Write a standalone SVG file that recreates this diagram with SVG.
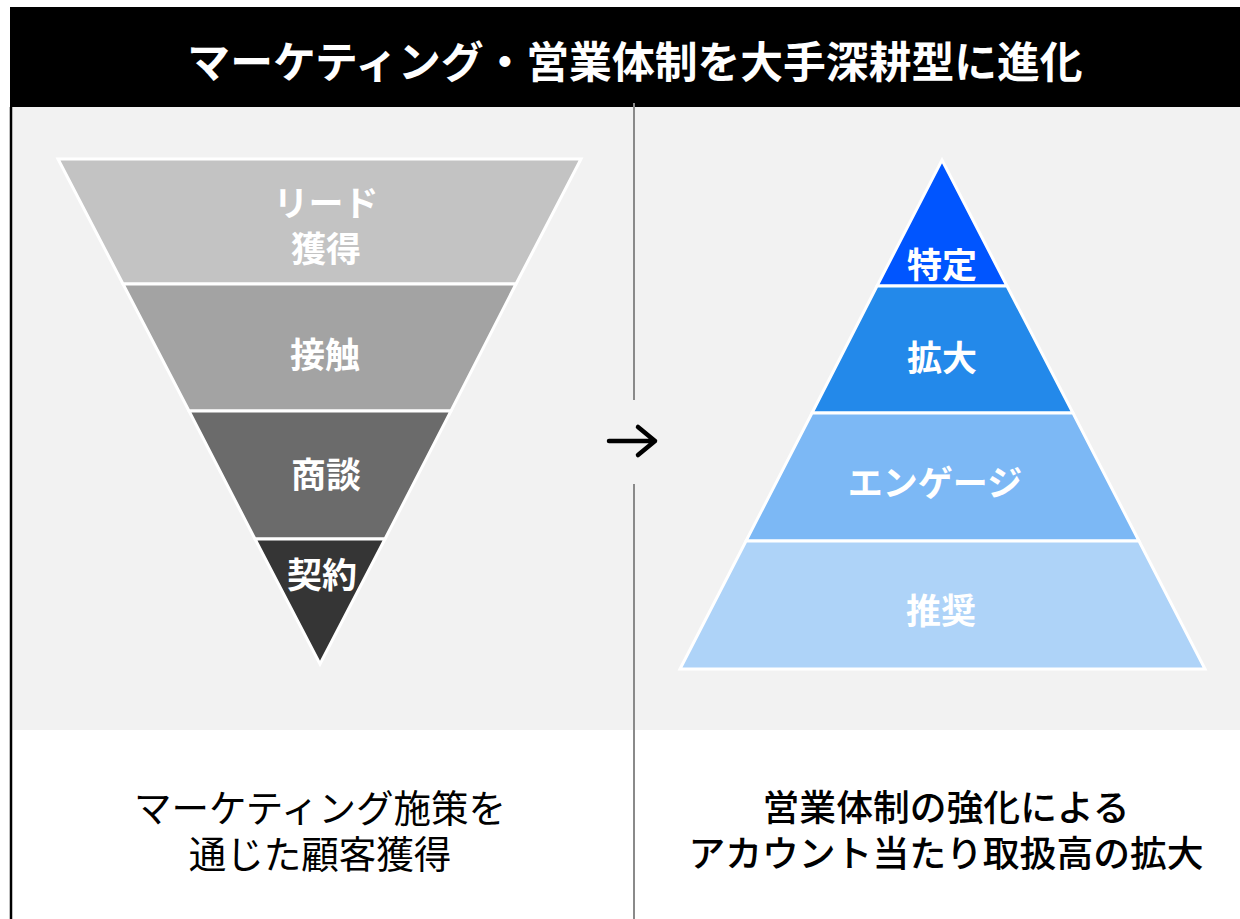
<svg xmlns="http://www.w3.org/2000/svg" width="1240" height="919" viewBox="0 0 1240 919">
<style>
.t{font-family:"Noto Sans CJK JP","Noto Sans",sans-serif;dominant-baseline:central;text-anchor:middle}
.lbl{font-size:35px;font-weight:700;fill:#ffffff}
.layer{stroke:#ffffff;stroke-width:3;stroke-linejoin:miter}
.cap{fill:#000000}
</style>
<rect x="0" y="0" width="1240" height="919" fill="#ffffff"/>
<g id="background">
<rect x="10" y="107" width="1230" height="623" fill="#f2f2f2"/>
<line x1="11" y1="107" x2="11" y2="919" stroke="#000000" stroke-width="2.5"/>
</g>
<g id="header">
<rect x="10" y="7" width="1230" height="100" fill="#000000"/>
<text class="t" x="635" y="59" font-size="42.8" font-weight="700" fill="#ffffff">マーケティング・営業体制を大手深耕型に進化</text>
</g>
<g id="connectors">
<line x1="634" y1="103" x2="634" y2="400" stroke="#8a8a8a" stroke-width="2"/>
<line x1="634" y1="484" x2="634" y2="919" stroke="#8a8a8a" stroke-width="2"/>
<path d="M609 441 H655 M638 427 L655 441 L638 455" fill="none" stroke="#000000" stroke-width="4.5" stroke-linecap="round" stroke-linejoin="round"/>
</g>
<g id="funnel-lead">
<polygon class="layer" points="58,159 581,159 516,284 123,284" fill="#c3c3c3"/>
<text class="t lbl" x="326"><tspan x="326" y="200">リード</tspan><tspan x="326" y="246">獲得</tspan></text>
</g>
<g id="funnel-contact">
<polygon class="layer" points="123,284 516,284 451,411 189,411" fill="#a3a3a3"/>
<text class="t lbl" x="325" y="352">接触</text>
</g>
<g id="funnel-negotiation">
<polygon class="layer" points="189,411 451,411 385,539 255,539" fill="#6b6b6b"/>
<text class="t lbl" x="326" y="472">商談</text>
</g>
<g id="funnel-contract">
<polygon class="layer" points="255,539 385,539 320,664" fill="#353535"/>
<text class="t lbl" x="322" y="572">契約</text>
</g>
<g id="pyramid-identify">
<polygon class="layer" points="942,160 1007,286 877,286" fill="#0055ff"/>
<text class="t lbl" x="942" y="262">特定</text>
</g>
<g id="pyramid-expand">
<polygon class="layer" points="877,286 1007,286 1073,413 812,413" fill="#2389ea"/>
<text class="t lbl" x="942" y="355">拡大</text>
</g>
<g id="pyramid-engage">
<polygon class="layer" points="812,413 1073,413 1139,541 746,541" fill="#7cb8f5"/>
<text class="t lbl" x="935" y="480" font-size="38">エンゲージ</text>
</g>
<g id="pyramid-recommend">
<polygon class="layer" points="746,541 1139,541 1205,669 680,669" fill="#aed3f8"/>
<text class="t lbl" x="941" y="608">推奨</text>
</g>
<g id="caption-left">
<text class="t cap" x="320" font-size="37.5" font-weight="400"><tspan x="320" y="805">マーケティング施策を</tspan><tspan x="320" y="851">通じた顧客獲得</tspan></text>
</g>
<g id="caption-right">
<text class="t cap" x="946" font-size="36.8" font-weight="500"><tspan x="946" y="805">営業体制の強化による</tspan><tspan x="946" y="851">アカウント当たり取扱高の拡大</tspan></text>
</g>
</svg>
